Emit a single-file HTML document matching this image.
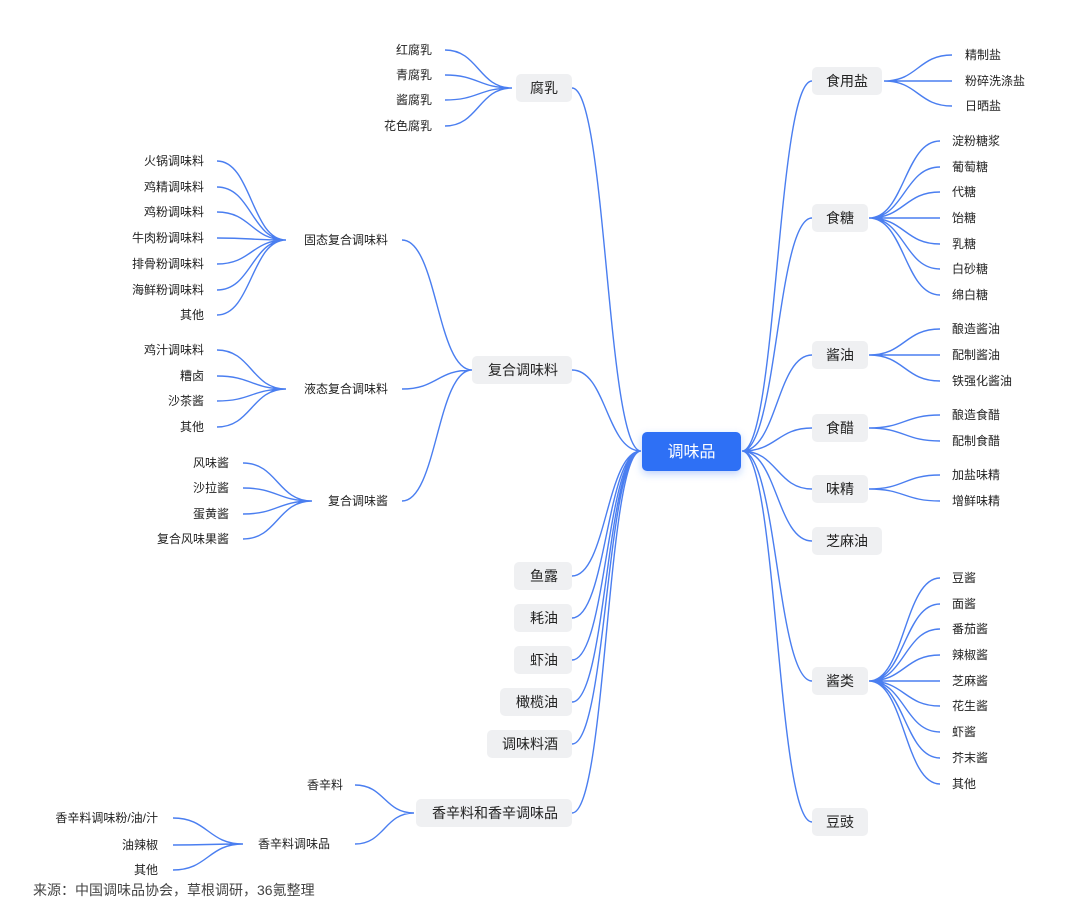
<!DOCTYPE html>
<html><head><meta charset="utf-8"><style>
html,body{margin:0;padding:0;background:#fff;}
body{width:1080px;height:920px;overflow:hidden;position:relative;font-family:"Liberation Sans","Noto Sans CJK SC",sans-serif;}
svg{position:absolute;left:0;top:0;}
text{font-family:"Liberation Sans","Noto Sans CJK SC",sans-serif;fill:#222;}
.l{font-size:12px;}
.n{font-size:14px;}
</style></head><body>
<svg id="s" width="1080" height="920" viewBox="0 0 1080 920">
<defs><filter id="sh" x="-20%" y="-30%" width="140%" height="170%"><feDropShadow dx="0" dy="3" stdDeviation="4" flood-color="#2f6ff5" flood-opacity="0.3"/></filter></defs>
<g id="lines" fill="none" stroke="#4a7ef0" stroke-width="1.4"></g>
<!-- center -->
<rect x="642" y="432" width="99" height="39" rx="5" fill="#2f6ff5" filter="url(#sh)"/>
<text x="691.5" y="457" text-anchor="middle" font-size="16" style="fill:#fff">调味品</text>
<!-- right level1 boxes -->
<g fill="#eff0f2">
<rect x="812" y="67" width="70" height="28" rx="5"/>
<rect x="812" y="204" width="56" height="28" rx="5"/>
<rect x="812" y="341" width="56" height="28" rx="5"/>
<rect x="812" y="414" width="56" height="28" rx="5"/>
<rect x="812" y="475" width="56" height="28" rx="5"/>
<rect x="812" y="527" width="70" height="28" rx="5"/>
<rect x="812" y="667" width="56" height="28" rx="5"/>
<rect x="812" y="808" width="56" height="28" rx="5"/>
<!-- left boxes -->
<rect x="516" y="74" width="56" height="28" rx="5"/>
<rect x="472" y="356" width="100" height="28" rx="5"/>
<rect x="514" y="562" width="58" height="28" rx="5"/>
<rect x="514" y="604" width="58" height="28" rx="5"/>
<rect x="514" y="646" width="58" height="28" rx="5"/>
<rect x="500" y="688" width="72" height="28" rx="5"/>
<rect x="487" y="730" width="85" height="28" rx="5"/>
<rect x="416" y="799" width="156" height="28" rx="5"/>
</g>
<g class="n">
<text x="826" y="86">食用盐</text>
<text x="826" y="223">食糖</text>
<text x="826" y="360">酱油</text>
<text x="826" y="433">食醋</text>
<text x="826" y="494">味精</text>
<text x="826" y="546">芝麻油</text>
<text x="826" y="686">酱类</text>
<text x="826" y="827">豆豉</text>
<text x="558" y="93" text-anchor="end">腐乳</text>
<text x="558" y="375" text-anchor="end">复合调味料</text>
<text x="558" y="581" text-anchor="end">鱼露</text>
<text x="558" y="623" text-anchor="end">耗油</text>
<text x="558" y="665" text-anchor="end">虾油</text>
<text x="558" y="707" text-anchor="end">橄榄油</text>
<text x="558" y="749" text-anchor="end">调味料酒</text>
<text x="558" y="818" text-anchor="end">香辛料和香辛调味品</text>
</g>
<g class="l">
<text x="965" y="59">精制盐</text><text x="965" y="85">粉碎洗涤盐</text><text x="965" y="110">日晒盐</text>
<text x="952" y="145">淀粉糖浆</text><text x="952" y="171">葡萄糖</text><text x="952" y="196">代糖</text><text x="952" y="222">饴糖</text><text x="952" y="248">乳糖</text><text x="952" y="273">白砂糖</text><text x="952" y="299">绵白糖</text>
<text x="952" y="333">酿造酱油</text><text x="952" y="359">配制酱油</text><text x="952" y="385">铁强化酱油</text>
<text x="952" y="419">酿造食醋</text><text x="952" y="445">配制食醋</text>
<text x="952" y="479">加盐味精</text><text x="952" y="505">增鲜味精</text>
<text x="952" y="582">豆酱</text><text x="952" y="608">面酱</text><text x="952" y="633">番茄酱</text><text x="952" y="659">辣椒酱</text><text x="952" y="685">芝麻酱</text><text x="952" y="710">花生酱</text><text x="952" y="736">虾酱</text><text x="952" y="762">芥末酱</text><text x="952" y="788">其他</text>
<g text-anchor="end">
<text x="432" y="54">红腐乳</text><text x="432" y="79">青腐乳</text><text x="432" y="104">酱腐乳</text><text x="432" y="130">花色腐乳</text>
<text x="388" y="244">固态复合调味料</text><text x="388" y="393">液态复合调味料</text><text x="388" y="505">复合调味酱</text>
<text x="204" y="165">火锅调味料</text><text x="204" y="191">鸡精调味料</text><text x="204" y="216">鸡粉调味料</text><text x="204" y="242">牛肉粉调味料</text><text x="204" y="268">排骨粉调味料</text><text x="204" y="294">海鲜粉调味料</text><text x="204" y="319">其他</text>
<text x="204" y="354">鸡汁调味料</text><text x="204" y="380">糟卤</text><text x="204" y="405">沙茶酱</text><text x="204" y="431">其他</text>
<text x="229" y="467">风味酱</text><text x="229" y="492">沙拉酱</text><text x="229" y="518">蛋黄酱</text><text x="229" y="543">复合风味果酱</text>
<text x="343" y="789">香辛料</text><text x="330" y="848">香辛料调味品</text>
<text x="158" y="822">香辛料调味粉/油/汁</text><text x="158" y="849">油辣椒</text><text x="158" y="874">其他</text>
</g>
</g>
<text x="33" y="895" font-size="14" style="fill:#444">来源：中国调味品协会，草根调研，36氪整理</text>
</svg>
<script>
var g=document.getElementById('lines'),d='';
function c(x1,y1,x2,y2){var m=(x1+x2)/2;d+='M'+x1+' '+y1+'C'+m+' '+y1+' '+m+' '+y2+' '+x2+' '+y2;}
// center right
[81,218,355,428,489,541,681,822].forEach(function(y){c(742,451,812,y);});
// center left
[88,370,576,618,660,702,744,813].forEach(function(y){c(641,451,572,y);});
// right children
[55,81,106].forEach(function(y){c(884,81,952,y);});
[141,167,192,218,244,269,295].forEach(function(y){c(869,218,940,y);});
[329,355,381].forEach(function(y){c(869,355,940,y);});
[415,441].forEach(function(y){c(869,428,940,y);});
[475,501].forEach(function(y){c(869,489,940,y);});
[578,604,629,655,681,706,732,758,784].forEach(function(y){c(869,681,940,y);});
// left
[50,75,100,126].forEach(function(y){c(445,y,512,88);});
[240,389,501].forEach(function(y){c(402,y,472,370);});
[161,187,212,238,264,290,315].forEach(function(y){c(217,y,286,240);});
[350,376,401,427].forEach(function(y){c(217,y,286,389);});
[463,488,514,539].forEach(function(y){c(243,y,312,501);});
[785,844].forEach(function(y){c(355,y,414,813);});
[818,845,870].forEach(function(y){c(173,y,243,844);});
var p=document.createElementNS('http://www.w3.org/2000/svg','path');p.setAttribute('d',d);g.appendChild(p);
</script>
</body></html>
